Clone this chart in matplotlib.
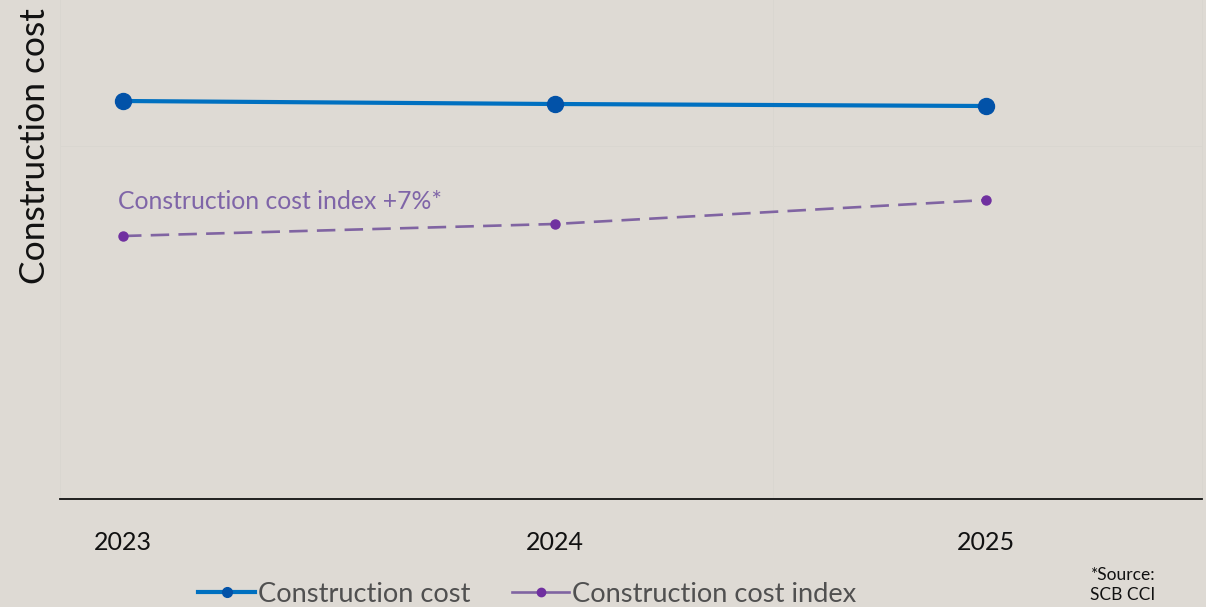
import matplotlib
matplotlib.use("Agg")
import matplotlib.pyplot as plt
from matplotlib.lines import Line2D

# Chart data
years = ["2023", "2024", "2025"]
construction_cost = [398, 395, 393]
cost_index = [263, 275, 299]
index_note = "Construction cost index +7%*"
source_lines = ["*Source:", "SCB CCI"]

BG = "#DEDAD4"
GRID = "#D9D6D0"
BLUE_LINE = "#0070C0"
BLUE_MARK = "#0252A8"
PURPLE_LINE = "#8064A2"
PURPLE_MARK = "#7030A0"

plt.rcParams["font.family"] = ["Lato", "DejaVu Sans"]

W, H = 1206, 607
fig = plt.figure(figsize=(W / 100, H / 100), dpi=100, facecolor=BG)
ax = fig.add_axes([60 / W, (H - 499) / H, (1202 - 60) / W, 499 / H])
ax.set_facecolor(BG)

x = list(range(len(years)))

ax.plot(x, construction_cost, color=BLUE_LINE, lw=3.0, solid_capstyle="round",
        marker="o", ms=11.5, mfc=BLUE_MARK, mec=BLUE_MARK, zorder=4)
ax.plot(x, cost_index, color=PURPLE_LINE, lw=1.9, dashes=(7, 3.5),
        marker="o", ms=6.5, mfc=PURPLE_MARK, mec=PURPLE_MARK, zorder=4)

ax.set_xlim(-0.146, 2.5)
ax.set_ylim(0, 499)

# faint gridlines
ax.axhline(353, color=GRID, lw=0.7, zorder=1)
ax.axvline(1.505, color=GRID, lw=0.7, zorder=1)

ax.spines["top"].set_visible(False)
for s in ["left", "right"]:
    ax.spines[s].set_color(GRID)
    ax.spines[s].set_linewidth(0.7)
ax.spines["bottom"].set_color("#111111")
ax.spines["bottom"].set_linewidth(1.3)

ax.set_yticks([])
ax.set_xticks(x)
ax.set_xticklabels(years, fontsize=18, color="#111111")
ax.tick_params(axis="x", length=0, pad=23)

ax.text(-0.012, 298, index_note, fontsize=17.8, color="#7F65A8",
        ha="left", va="center")

fig.text(35 / W, 1 - 146 / H, "Construction cost", rotation=90,
         fontsize=25.5, color="#111111", ha="center", va="center")

handles = [
    Line2D([], [], color=BLUE_LINE, lw=3.0, marker="o", ms=7,
           mfc=BLUE_MARK, mec=BLUE_MARK),
    Line2D([], [], color=PURPLE_LINE, lw=1.9, marker="o", ms=6,
           mfc=PURPLE_MARK, mec=PURPLE_MARK),
]
leg = fig.legend(handles, ["Construction cost", "Construction cost index"],
                 loc="center", bbox_to_anchor=(527 / W, 1 - 594 / H),
                 ncol=2, frameon=False, fontsize=19.6, handlelength=2.1,
                 handletextpad=0.08, columnspacing=1.55, labelcolor="#505050")

fig.text(1123 / W, 1 - 575 / H, source_lines[0], fontsize=12.5, color="#111111",
         ha="center", va="center")
fig.text(1123 / W, 1 - 595 / H, source_lines[1], fontsize=12.5, color="#111111",
         ha="center", va="center")

fig.savefig("out.png", dpi=100, facecolor=BG)
